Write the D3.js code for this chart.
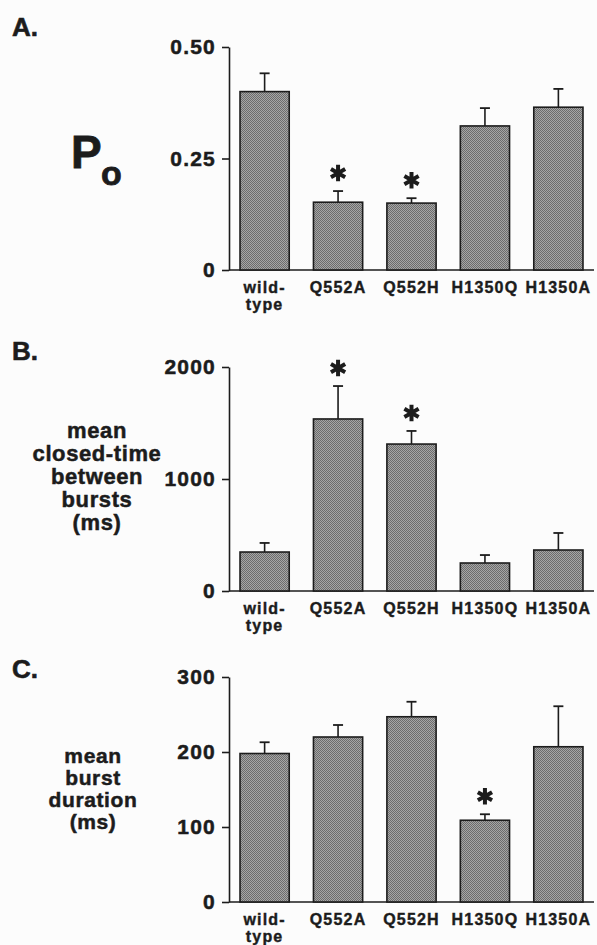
<!DOCTYPE html>
<html>
<head>
<meta charset="utf-8">
<script src="https://cdn.jsdelivr.net/npm/d3@7"></script>
<style>
  body { margin: 0; background: #fcfcfc; }
  svg { display: block; }
</style>
</head>
<body>
<div id="chart"></div>
<script>
const categories = ['wild-type', 'Q552A', 'Q552H', 'H1350Q', 'H1350A'];
const categoryLabels = [['wild-', 'type'], ['Q552A'], ['Q552H'], ['H1350Q'], ['H1350A']];

// A. open probability
const poMean = [0.40, 0.152, 0.150, 0.323, 0.365];
const poSem = [0.041, 0.025, 0.011, 0.040, 0.041];
const poSignificant = [false, true, true, false, false];
const poTicks = [0, 0.25, 0.5];
const poTickLabels = ['0', '0.25', '0.50'];

// B. mean closed-time between bursts (ms)
const closedMean = [348, 1536, 1312, 250, 366];
const closedSem = [81, 294, 117, 71, 152];
const closedSignificant = [false, true, true, false, false];
const closedTicks = [0, 1000, 2000];
const closedTickLabels = ['0', '1000', '2000'];

// C. mean burst duration (ms)
const burstMean = [198, 220, 247, 109, 207];
const burstSem = [15, 16, 20, 8, 54];
const burstSignificant = [false, false, false, true, false];
const burstTicks = [0, 100, 200, 300];
const burstTickLabels = ['0', '100', '200', '300'];

const width = 597;
const height = 945;
const axisX = 229;
const axisEnd = 594;
const ink = '#1c1c1c';
const font = '"Liberation Sans", Arial, Helvetica, sans-serif';

const svg = d3.select('#chart').append('svg')
  .attr('width', width)
  .attr('height', height)
  .style('background', '#fcfcfc');

// fine screen texture of the bars
const pattern = svg.append('defs').append('pattern')
  .attr('id', 'screen')
  .attr('patternUnits', 'userSpaceOnUse')
  .attr('width', 2)
  .attr('height', 2);
pattern.append('rect').attr('width', 2).attr('height', 2).attr('fill', '#a6a6a6');
pattern.append('rect').attr('width', 1).attr('height', 1).attr('fill', '#6c6c6c');
pattern.append('rect').attr('x', 1).attr('y', 1).attr('width', 1).attr('height', 1).attr('fill', '#6c6c6c');

const x = d3.scaleBand()
  .domain(categories)
  .range([axisX, axisEnd])
  .paddingInner(0.33)
  .paddingOuter(0.15);

// heavier type, like the printed figure
function heavy(sel, w) {
  return sel.attr('stroke', ink).attr('stroke-width', w).attr('paint-order', 'stroke');
}

function drawPanel(p) {
  const y = d3.scaleLinear()
    .domain([0, p.max])
    .range([p.zeroY, p.topY]);

  const g = svg.append('g');

  const yAxis = d3.axisLeft(y)
    .tickValues(p.ticks)
    .tickFormat((d, i) => p.tickLabels[i])
    .tickSize(7)
    .tickSizeOuter(0)
    .tickPadding(6);

  const axisG = g.append('g')
    .attr('transform', `translate(${axisX},0)`)
    .call(yAxis)
    .attr('font-family', font)
    .attr('font-size', 21)
    .attr('font-weight', 'bold')
    .style('color', ink);
  axisG.selectAll('path, line').attr('stroke-width', 1.6);
  heavy(axisG.selectAll('text').attr('letter-spacing', 1.2), 0.5);

  // baseline
  g.append('line')
    .attr('x1', axisX)
    .attr('x2', axisEnd)
    .attr('y1', y(0))
    .attr('y2', y(0))
    .attr('stroke', ink)
    .attr('stroke-width', 1.6);

  const rows = categories.map((c, i) => ({
    cat: c, mean: p.means[i], sem: p.sems[i], sig: p.sig[i]
  }));

  // error bars (upper half only)
  const err = g.selectAll('.err').data(rows).enter().append('g').attr('class', 'err');
  err.append('line')
    .attr('x1', d => x(d.cat) + x.bandwidth() / 2)
    .attr('x2', d => x(d.cat) + x.bandwidth() / 2)
    .attr('y1', d => y(d.mean))
    .attr('y2', d => y(d.mean + d.sem))
    .attr('stroke', ink)
    .attr('stroke-width', 1.6);
  err.append('line')
    .attr('x1', d => x(d.cat) + x.bandwidth() / 2 - 5)
    .attr('x2', d => x(d.cat) + x.bandwidth() / 2 + 5)
    .attr('y1', d => y(d.mean + d.sem))
    .attr('y2', d => y(d.mean + d.sem))
    .attr('stroke', ink)
    .attr('stroke-width', 1.8);

  g.selectAll('.bar').data(rows).enter().append('rect')
    .attr('class', 'bar')
    .attr('x', d => x(d.cat))
    .attr('y', d => y(d.mean))
    .attr('width', x.bandwidth())
    .attr('height', d => y(0) - y(d.mean))
    .attr('fill', 'url(#screen)')
    .attr('stroke', ink)
    .attr('stroke-width', 1.6);

  // significance asterisks
  g.selectAll('.star').data(rows.filter(d => d.sig)).enter().append('path')
    .attr('class', 'star')
    .attr('d', d3.symbol(d3.symbolAsterisk, 190))
    .attr('transform', d => `translate(${x(d.cat) + x.bandwidth() / 2},${y(d.mean + d.sem) - 18})`)
    .attr('fill', 'none')
    .attr('stroke', ink)
    .attr('stroke-width', 4);

  // category labels
  const labels = g.selectAll('.cat').data(categories).enter().append('text')
    .attr('class', 'cat')
    .attr('x', d => x(d) + x.bandwidth() / 2)
    .attr('y', y(0) + 23)
    .attr('text-anchor', 'middle')
    .attr('font-family', font)
    .attr('font-size', 16)
    .attr('font-weight', 'bold')
    .attr('letter-spacing', 1.2)
    .attr('fill', ink);
  heavy(labels, 0.4);
  labels.selectAll('tspan')
    .data((d, i) => categoryLabels[i])
    .enter().append('tspan')
    .attr('x', function () { return d3.select(this.parentNode).attr('x'); })
    .attr('dy', (d, i) => i === 0 ? 0 : 17)
    .text(d => d);

  // panel letter
  heavy(g.append('text')
    .attr('x', 12)
    .attr('y', p.letterY)
    .attr('font-family', font)
    .attr('font-size', 26)
    .attr('font-weight', 'bold')
    .attr('fill', ink)
    .text(p.letter), 0.6);

  if (p.title) {
    heavy(g.append('g').selectAll('text').data(p.title).enter().append('text')
      .attr('x', p.titleX)
      .attr('y', (d, i) => p.titleY + i * p.titleStep)
      .attr('text-anchor', 'middle')
      .attr('font-family', font)
      .attr('font-size', p.titleSize)
      .attr('font-weight', 'bold')
      .attr('letter-spacing', 0.6)
      .attr('fill', ink)
      .text(d => d), 0.5);
  }
  return g;
}

const panelA = drawPanel({
  letter: 'A.', letterY: 36, zeroY: 270, topY: 47, max: 0.5,
  means: poMean, sems: poSem, sig: poSignificant,
  ticks: poTicks, tickLabels: poTickLabels
});

// P with subscript o
heavy(panelA.append('text')
  .attr('x', 71)
  .attr('y', 168)
  .attr('font-family', font)
  .attr('font-size', 46)
  .attr('font-weight', 'bold')
  .attr('fill', ink)
  .text('P'), 0.8);
heavy(panelA.append('text')
  .attr('x', 101)
  .attr('y', 185)
  .attr('font-family', font)
  .attr('font-size', 34)
  .attr('font-weight', 'bold')
  .attr('fill', ink)
  .text('o'), 0.8);

drawPanel({
  letter: 'B.', letterY: 360, zeroY: 591, topY: 367, max: 2000,
  means: closedMean, sems: closedSem, sig: closedSignificant,
  ticks: closedTicks, tickLabels: closedTickLabels,
  title: ['mean', 'closed-time', 'between', 'bursts', '(ms)'],
  titleX: 97, titleY: 438, titleStep: 23, titleSize: 22
});

drawPanel({
  letter: 'C.', letterY: 678, zeroY: 902, topY: 677, max: 300,
  means: burstMean, sems: burstSem, sig: burstSignificant,
  ticks: burstTicks, tickLabels: burstTickLabels,
  title: ['mean', 'burst', 'duration', '(ms)'],
  titleX: 93, titleY: 763, titleStep: 22, titleSize: 21
});
</script>
</body>
</html>
